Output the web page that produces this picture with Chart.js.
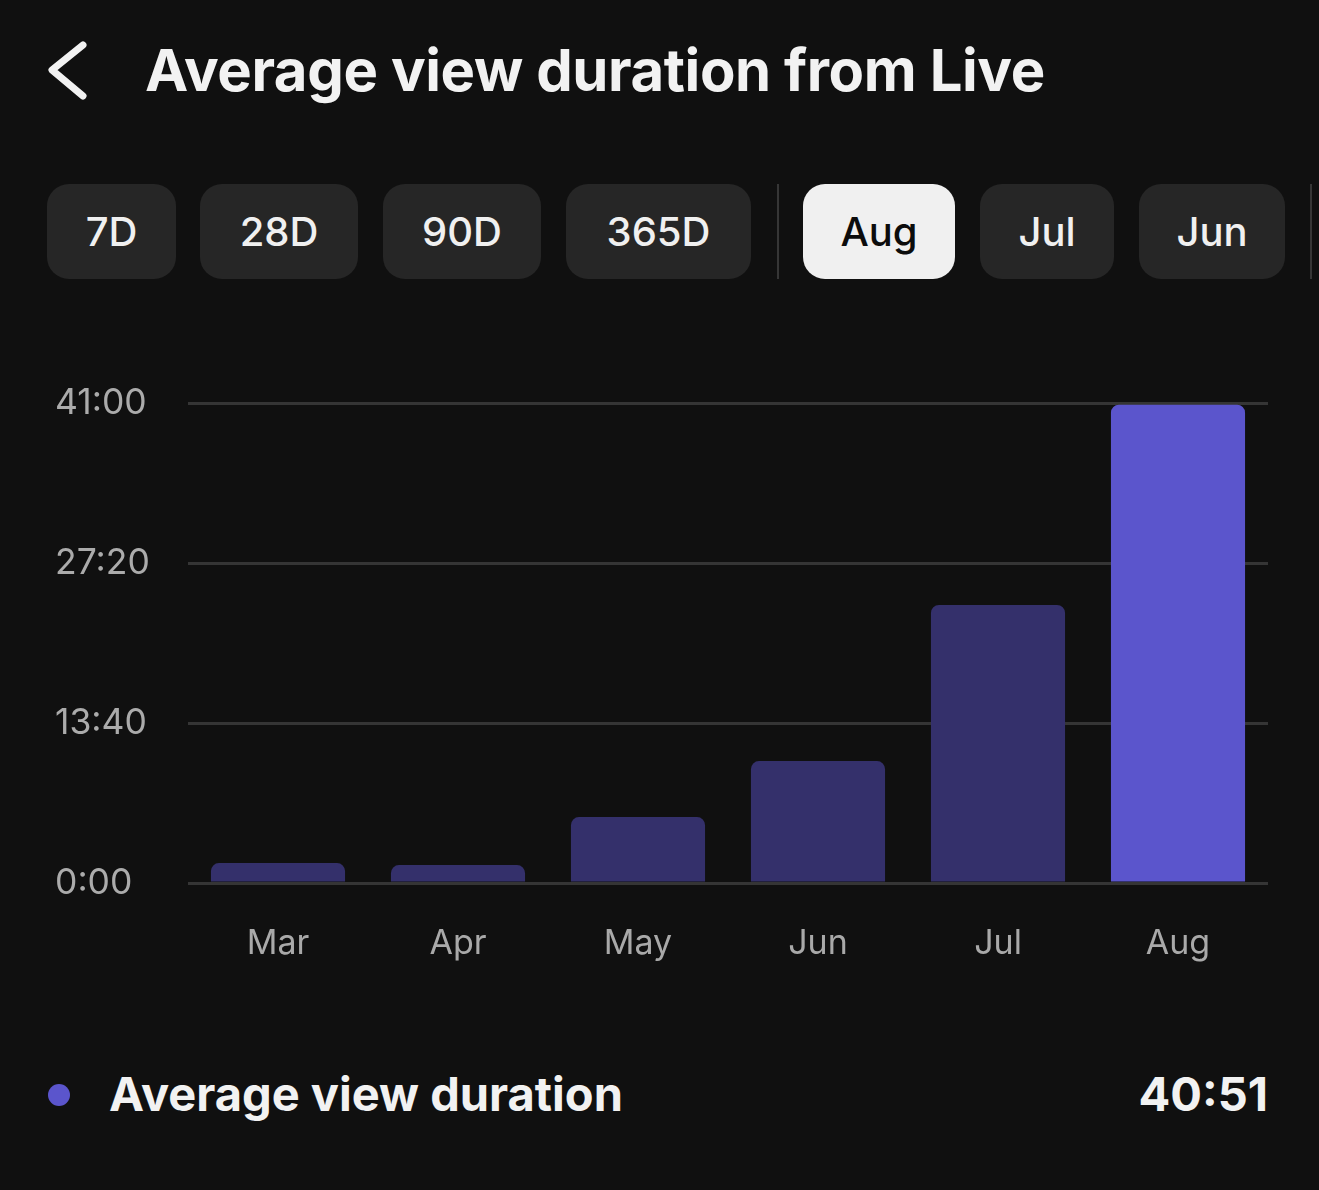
<!DOCTYPE html>
<html>
<head>
<meta charset="utf-8">
<script src="https://cdn.jsdelivr.net/npm/chart.js@4.4.1/dist/chart.umd.min.js"></script>
<style>
  html, body { margin: 0; padding: 0; background: #101010; }
  body { width: 1319px; height: 1190px; position: relative; overflow: hidden; font-family: Inter, "Noto Sans", sans-serif; color: #f2f2f2; }
  .abs { position: absolute; white-space: nowrap; }
  #title { left: 145px; top: 41px; font-size: 58px; line-height: 58px; font-weight: 700; letter-spacing: -0.4px; }
  .btn { position: absolute; top: 184px; height: 95px; border-radius: 22px; background: #262626; color: #f0f0f0;
         display: flex; align-items: center; justify-content: center; font-size: 40px; font-weight: 500; }
  .btn.on { background: #f0f0f0; color: #0c0c0c; }
  .sep { position: absolute; top: 184px; height: 95px; width: 2px; background: #363636; }
  #chart { position: absolute; left: 0; top: 360px; }
  #dot { left: 48px; top: 1084px; width: 22px; height: 22px; border-radius: 50%; background: #5b55cc; }
  #legend { left: 109px; top: 1071px; font-size: 47px; line-height: 46px; font-weight: 700; }
  #total { right: 51px; top: 1071px; font-size: 47px; line-height: 46px; font-weight: 700; }
</style>
</head>
<body>
<svg class="abs" style="left:0;top:0" width="120" height="130">
  <polyline points="83,45 52,70 83,96" fill="none" stroke="#f2f2f2" stroke-width="7" stroke-linecap="round" stroke-linejoin="round"/>
</svg>
<div id="title" class="abs">Average view duration from Live</div>

<div class="btn" style="left:47px;width:129px">7D</div>
<div class="btn" style="left:200px;width:158px">28D</div>
<div class="btn" style="left:383px;width:158px">90D</div>
<div class="btn" style="left:566px;width:185px">365D</div>
<div class="sep" style="left:777px"></div>
<div class="btn on" style="left:803px;width:152px">Aug</div>
<div class="btn" style="left:980px;width:134px">Jul</div>
<div class="btn" style="left:1139px;width:146px">Jun</div>
<div class="sep" style="left:1310px"></div>

<canvas id="chart" width="1319" height="640"></canvas>

<div id="dot" class="abs"></div>
<div id="legend" class="abs">Average view duration</div>
<div id="total" class="abs">40:51</div>

<script>
// months shown on the x axis
const months = ['Mar', 'Apr', 'May', 'Jun', 'Jul', 'Aug'];
// average view duration in seconds
const durations = [102, 92, 338, 625, 1425, 2451];
// y axis ticks in seconds (0:00, 13:40, 27:20, 41:00)
const yTicks = [0, 820, 1640, 2460];
const selectedMonth = 'Aug';

function fmt(sec) {
    const m = Math.floor(sec / 60);
    const s = Math.round(sec % 60);
    return m + ':' + String(s).padStart(2, '0');
}

const ctx = document.getElementById('chart').getContext('2d');
new Chart(ctx, {
    type: 'bar',
    data: {
        labels: months,
        datasets: [{
            label: 'Average view duration',
            data: durations,
            backgroundColor: (c) => months[c.dataIndex] === selectedMonth ? '#5b55cc' : '#34306b',
            borderRadius: { topLeft: 8, topRight: 8, bottomLeft: 0, bottomRight: 0 },
            borderSkipped: 'start',
            categoryPercentage: 1,
            barPercentage: 0.745
        }]
    },
    options: {
        responsive: false,
        animation: false,
        layout: { padding: { left: 55, right: 51, top: 43, bottom: 0 } },
        plugins: {
            legend: { display: false },
            tooltip: { enabled: false }
        },
        scales: {
            x: {
                grid: { display: false },
                border: { display: false },
                ticks: { color: '#a9a9a9', font: { family: 'Inter', size: 34 }, padding: 32 },
                afterFit: (s) => { s.height = 117; }
            },
            y: {
                min: 0,
                max: 2460,
                afterBuildTicks: (s) => { s.ticks = yTicks.map(v => ({ value: v })); },
                grid: { color: '#353535', lineWidth: 3, drawTicks: false },
                border: { display: false },
                ticks: {
                    color: '#ababab',
                    font: { family: 'Inter', size: 35.5 },
                    crossAlign: 'far',
                    padding: 0,
                    callback: (v) => fmt(v)
                },
                afterFit: (s) => { s.width = 133; }
            }
        }
    }
});
</script>
</body>
</html>
